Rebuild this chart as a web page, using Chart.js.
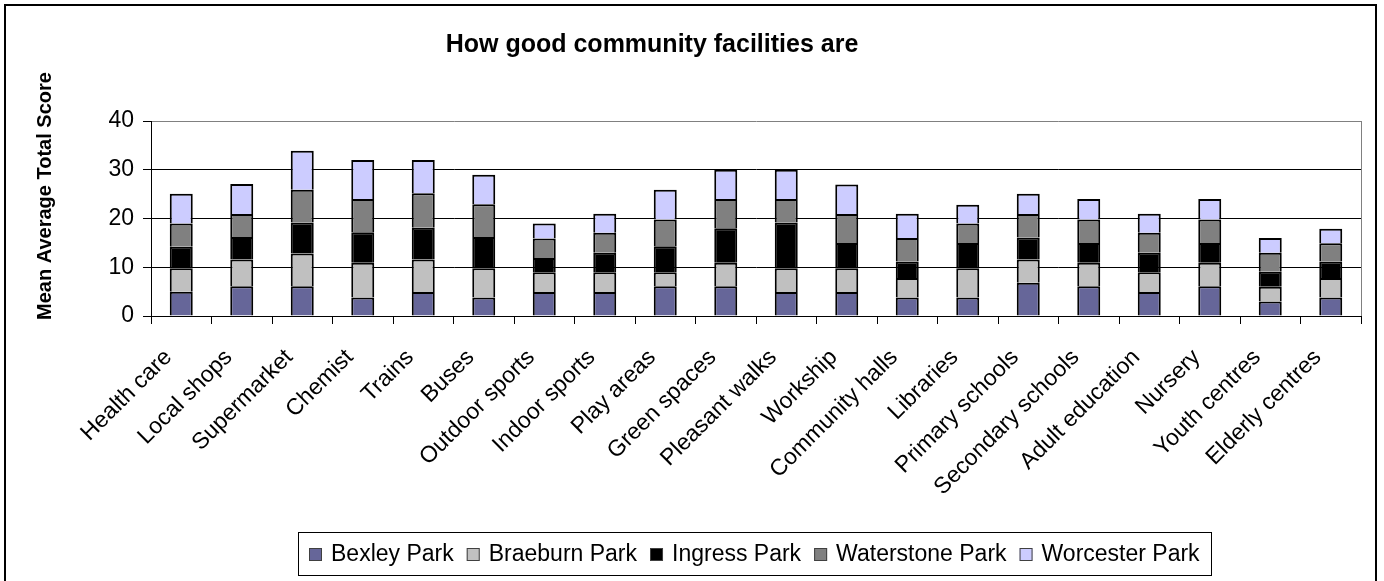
<!DOCTYPE html>
<html>
<head>
<meta charset="utf-8">
<title>How good community facilities are</title>
<script src="https://cdn.jsdelivr.net/npm/chart.js@4.4.1/dist/chart.umd.min.js"></script>
<style>
  html, body { margin: 0; padding: 0; background: #fff; }
  #wrap { width: 1384px; height: 581px; }
</style>
</head>
<body>
<div id="wrap"><canvas id="chart"></canvas></div>
<script>
// Facilities on the x axis
const facilities = [
  'Health care', 'Local shops', 'Supermarket', 'Chemist', 'Trains', 'Buses',
  'Outdoor sports', 'Indoor sports', 'Play areas', 'Green spaces', 'Pleasant walks',
  'Workship', 'Community halls', 'Libraries', 'Primary schools', 'Secondary schools',
  'Adult education', 'Nursery', 'Youth centres', 'Elderly centres'
];

// Mean score per area (stacked)
const bexleyPark     = [5.0, 6.1, 6.1, 3.8, 4.9, 3.8, 4.9, 4.9, 6.1, 6.1, 4.9, 4.9, 3.8, 3.8, 6.8, 6.1, 4.9, 6.1, 3.0, 3.8];
const braeburnPark   = [4.8, 5.5, 6.7, 7.1, 6.7, 6.0, 4.1, 4.1, 2.9, 4.8, 4.9, 4.9, 4.0, 6.0, 4.8, 4.8, 4.1, 4.8, 3.0, 4.0];
const ingressPark    = [4.4, 4.6, 6.4, 6.3, 6.5, 6.4, 2.9, 4.0, 5.3, 7.1, 9.4, 5.2, 3.4, 5.2, 4.5, 4.1, 4.0, 4.1, 3.1, 3.4];
const waterstonePark = [4.8, 4.7, 6.7, 6.8, 7.1, 6.7, 4.0, 4.1, 5.5, 6.0, 4.8, 5.9, 4.8, 4.0, 4.8, 4.8, 4.1, 4.8, 3.9, 3.7];
const worcesterPark  = [6.1, 6.2, 8.0, 8.0, 6.8, 6.1, 3.1, 3.9, 6.1, 6.0, 6.0, 6.1, 5.0, 3.8, 4.2, 4.2, 3.9, 4.2, 3.0, 3.0];

const areaNames  = ['Bexley Park', 'Braeburn Park', 'Ingress Park', 'Waterstone Park', 'Worcester Park'];
const areaSeries = [bexleyPark, braeburnPark, ingressPark, waterstonePark, worcesterPark];
const areaColors = ['#666699', '#C0C0C0', '#000000', '#808080', '#CCCCFF'];

const yTicks = [0, 10, 20, 30, 40];

const FONT = '"Liberation Sans", Arial, sans-serif';

// Title, y-axis title, plot frame, outer border and boxed legend
const decorations = {
  id: 'decorations',
  afterDraw(chart) {
    const ctx = chart.ctx;
    const area = chart.chartArea;
    ctx.save();

    // plot area frame (right edge, grey)
    ctx.strokeStyle = '#808080';
    ctx.lineWidth = 1;
    ctx.beginPath();
    ctx.moveTo(Math.round(area.right) + 0.5, area.top);
    ctx.lineTo(Math.round(area.right) + 0.5, area.bottom);
    ctx.stroke();

    // title
    ctx.fillStyle = '#000';
    ctx.font = 'bold 25px ' + FONT;
    ctx.textAlign = 'center';
    ctx.textBaseline = 'middle';
    ctx.fillText('How good community facilities are', 652, 45);

    // y axis title
    ctx.save();
    ctx.translate(45, 196);
    ctx.rotate(-Math.PI / 2);
    ctx.font = 'bold 20px ' + FONT;
    ctx.fillText('Mean Average Total Score', 0, 0);
    ctx.restore();

    // legend box
    const lx = 298, ly = 532, lw = 913, lh = 43;
    ctx.strokeStyle = '#000';
    ctx.lineWidth = 1;
    ctx.strokeRect(lx + 0.5, ly + 0.5, lw, lh);

    ctx.font = '23px ' + FONT;
    ctx.textAlign = 'left';
    const box = 13, gapText = 9, gapItem = 13;
    const widths = chart.data.datasets.map(d => ctx.measureText(d.label).width);
    const total = widths.reduce((s, w) => s + box + gapText + w, 0) + gapItem * (widths.length - 1);
    let x = Math.round(lx + (lw - total) / 2);
    const cy = ly + lh / 2 + 1;
    chart.data.datasets.forEach((d, i) => {
      ctx.fillStyle = d.backgroundColor;
      ctx.fillRect(x, Math.round(cy - box / 2), box, box);
      ctx.strokeStyle = '#404040';
      ctx.strokeRect(x + 0.5, Math.round(cy - box / 2) + 0.5, box - 1, box - 1);
      ctx.fillStyle = '#000';
      ctx.fillText(d.label, x + box + gapText, cy);
      x += box + gapText + widths[i] + gapItem;
    });

    // outer chart border
    ctx.strokeStyle = '#000';
    ctx.lineWidth = 2;
    ctx.strokeRect(5, 5, 1371, 600);

    ctx.restore();
  }
};

const datasets = areaNames.map((name, i) => ({
  label: name,
  data: areaSeries[i],
  backgroundColor: areaColors[i],
  borderColor: '#000',
  borderWidth: 2,
  categoryPercentage: 1.0,
  barPercentage: 0.38
}));

new Chart(document.getElementById('chart'), {
  type: 'bar',
  data: { labels: facilities, datasets: datasets },
  options: {
    responsive: true,
    maintainAspectRatio: false,
    animation: false,
    events: [],
    layout: { padding: { left: 0, top: 121, right: 23, bottom: 55 } },
    plugins: {
      legend: { display: false },
      title: { display: false },
      tooltip: { enabled: false }
    },
    scales: {
      x: {
        stacked: true,
        border: { display: true, color: '#000', width: 1 },
        grid: {
          display: true,
          offset: true,
          drawOnChartArea: false,
          drawTicks: true,
          tickLength: 8,
          color: '#000'
        },
        ticks: {
          color: '#000',
          font: { family: FONT, size: 23 },
          maxRotation: 45,
          minRotation: 45,
          autoSkip: false,
          labelOffset: -13,
          padding: 20
        },
        afterFit(scale) {
          scale.height = 210;
          scale.paddingLeft = 0;
          scale.paddingRight = 0;
        }
      },
      y: {
        stacked: true,
        min: yTicks[0],
        max: yTicks[yTicks.length - 1],
        border: { display: true, color: '#000', width: 1 },
        grid: {
          color: c => (c.tick && c.tick.value === 40 ? '#808080' : '#000'),
          tickColor: '#000',
          tickLength: 8
        },
        ticks: {
          stepSize: 10,
          color: '#000',
          font: { family: FONT, size: 23 },
          padding: 9
        },
        afterFit(scale) {
          scale.width = 151;
        }
      }
    }
  },
  plugins: [decorations]
});
</script>
</body>
</html>
